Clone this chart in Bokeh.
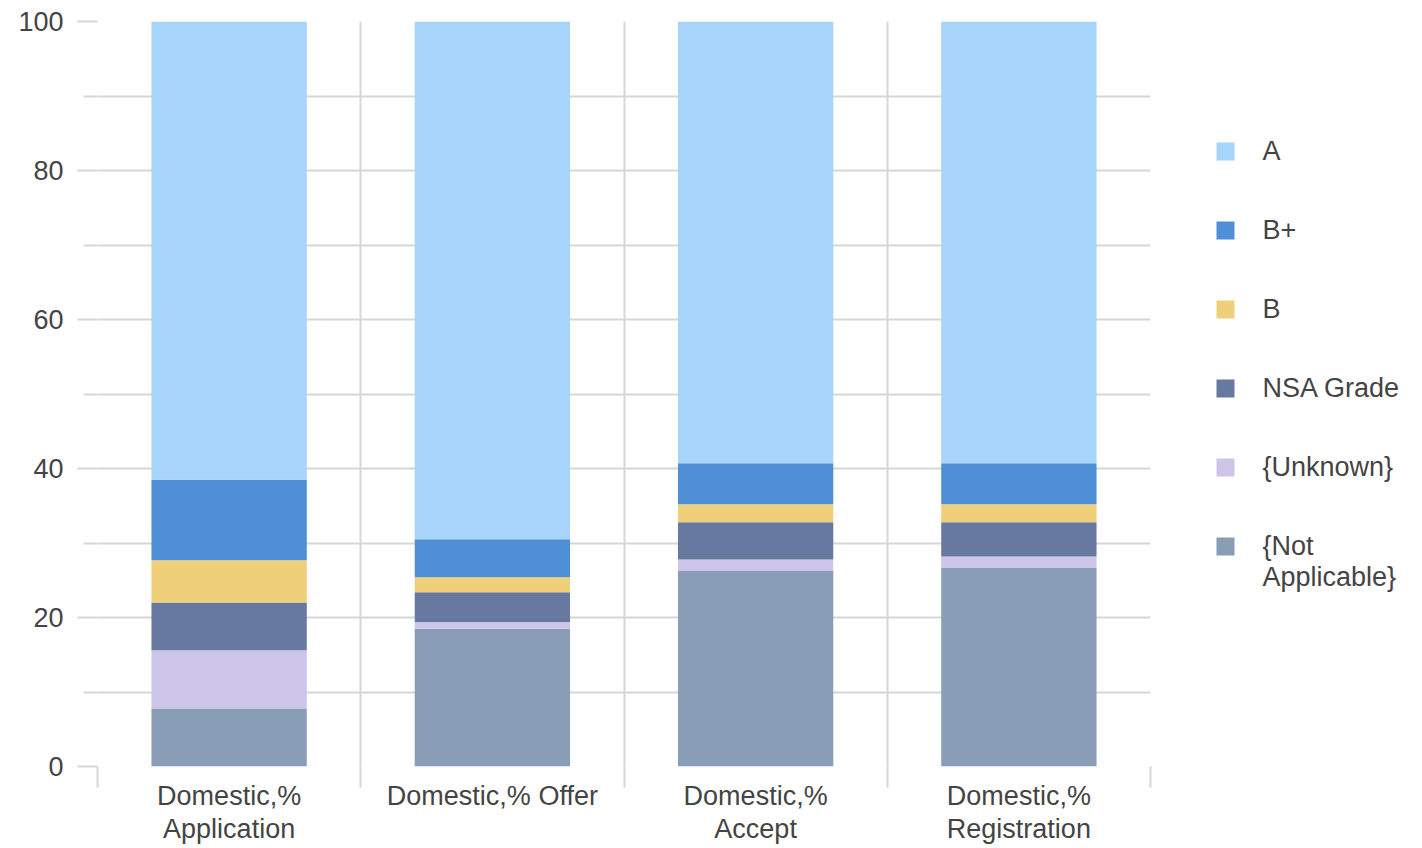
from bokeh.plotting import figure
from bokeh.layouts import row
from bokeh.models import FixedTicker, ColumnDataSource, Range1d
from bokeh.core.properties import value
from bokeh.embed import file_html
from bokeh.resources import INLINE

# Stages of the domestic admissions funnel
stages = ["Domestic,%\nApplication", "Domestic,% Offer", "Domestic,%\nAccept", "Domestic,%\nRegistration"]

# Grade shares (%) per stage, stacked from the bottom up
not_applicable = [7.8, 18.5, 26.3, 26.7]
unknown = [7.8, 0.9, 1.5, 1.5]
nsa_grade = [6.4, 4.0, 5.0, 4.6]
grade_b = [5.7, 2.0, 2.4, 2.4]
grade_b_plus = [10.8, 5.1, 5.5, 5.5]
grade_a = [61.5, 69.5, 59.3, 59.3]

series_names = ["{Not\nApplicable}", "{Unknown}", "NSA Grade", "B", "B+", "A"]
series_values = [not_applicable, unknown, nsa_grade, grade_b, grade_b_plus, grade_a]
series_colors = ["#8a9db6", "#cdc5e8", "#6779a0", "#efcf7a", "#4f8fd6", "#a6d4fa"]

y_ticks = [0, 20, 40, 60, 80, 100]
y_minor = [10, 30, 50, 70, 90]

FONT = "Liberation Sans"
GRID = "#d6d6d6"
TEXT = "#444444"
FS = "27px"
H = 848
TOP, BOTTOM = 21, 82

n = len(stages)
centers = [i + 0.5 for i in range(n)]

p = figure(width=1152, height=H, output_backend="svg", toolbar_location=None,
           x_range=Range1d(0, n), y_range=Range1d(0, 100),
           min_border_left=97, min_border_right=2, min_border_top=TOP, min_border_bottom=BOTTOM)
p.outline_line_color = None
p.background_fill_color = "white"

bottoms = [0.0] * n
for name, vals, col in zip(series_names, series_values, series_colors):
    tops = [b + v for b, v in zip(bottoms, vals)]
    src = ColumnDataSource(dict(x=centers, bottom=bottoms, top=tops))
    p.vbar(x="x", bottom="bottom", top="top", width=0.59, source=src,
           fill_color=col, line_color=None)
    bottoms = tops

# Axes
p.yaxis.ticker = FixedTicker(ticks=y_ticks, minor_ticks=y_minor)
p.yaxis.axis_line_color = None
p.yaxis.major_tick_line_color = GRID
p.yaxis.major_tick_line_width = 2
p.yaxis.major_tick_out = 20
p.yaxis.major_tick_in = 0
p.yaxis.minor_tick_line_color = GRID
p.yaxis.minor_tick_line_width = 2
p.yaxis.minor_tick_out = 14
p.yaxis.minor_tick_in = 0
p.yaxis.major_label_text_font = FONT
p.yaxis.major_label_text_font_size = FS
p.yaxis.major_label_text_color = TEXT
p.yaxis.major_label_standoff = 14

p.xaxis.ticker = FixedTicker(ticks=centers, minor_ticks=list(range(n + 1)))
p.xaxis.major_label_overrides = {c: s for c, s in zip(centers, stages)}
p.xaxis.axis_line_color = None
p.xaxis.major_tick_line_color = None
p.xaxis.major_tick_out = 0
p.xaxis.major_tick_in = 0
p.xaxis.minor_tick_line_color = GRID
p.xaxis.minor_tick_line_width = 2
p.xaxis.minor_tick_out = 21
p.xaxis.minor_tick_in = 0
p.xaxis.major_label_text_font = FONT
p.xaxis.major_label_text_font_size = FS
p.xaxis.major_label_text_color = TEXT
p.xaxis.major_label_text_line_height = 1.1
p.xaxis.major_label_standoff = -7

# Grid lines
p.xgrid.ticker = FixedTicker(ticks=list(range(n + 1)))
p.xgrid.grid_line_color = GRID
p.xgrid.grid_line_width = 2
p.ygrid.ticker = FixedTicker(ticks=list(range(0, 101, 10)))
p.ygrid.grid_line_color = GRID
p.ygrid.grid_line_width = 2

# Legend panel; its frame lines up with the chart frame, so data y equals page y
leg_w = 1422 - 1152
lg = figure(width=leg_w, height=H, output_backend="svg", toolbar_location=None,
            x_range=Range1d(0, leg_w), y_range=Range1d(H - BOTTOM, TOP),
            min_border_left=0, min_border_right=0, min_border_top=TOP, min_border_bottom=BOTTOM,
            x_axis_type=None, y_axis_type=None)
lg.outline_line_color = None
lg.grid.visible = False

first_y, step = 151, 79
order = list(range(len(series_names)))[::-1]  # top entry is "A"
ys = [first_y + k * step for k in range(len(order))]
leg_src = ColumnDataSource(dict(
    x=[73] * len(order),
    y=ys,
    ty=[y - 16 for y in ys],
    color=[series_colors[i] for i in order],
    label=[series_names[i] for i in order],
))
lg.rect(x="x", y="y", width=18, height=18, source=leg_src,
        fill_color="color", line_color=None)
lg.text(x=110, y="ty", text="label", source=leg_src,
        text_font=value(FONT), text_font_size=FS, text_color=TEXT,
        text_baseline="top", text_align="left", text_line_height=1.06)

layout = row(p, lg)
open("out.html", "w").write(file_html(layout, INLINE))
